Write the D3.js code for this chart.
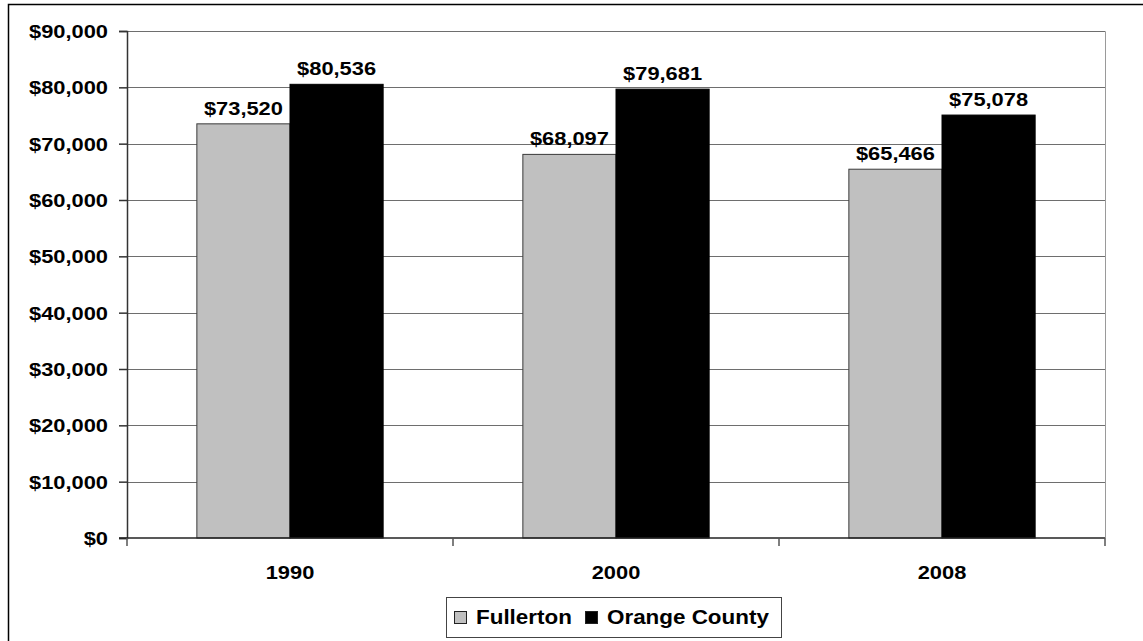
<!DOCTYPE html>
<html>
<head>
<meta charset="utf-8">
<script src="https://cdn.jsdelivr.net/npm/d3@7"></script>
<style>
	body { margin: 0; background: #fff; }
	text { font-family: "Liberation Sans", Arial, sans-serif; font-weight: bold; fill: #000; }
</style>
</head>
<body>
<script>
// chart data
var years = ['1990', '2000', '2008'];
var seriesNames = ['Fullerton', 'Orange County'];
var fullerton = [73520, 68097, 65466];
var orangeCounty = [80536, 79681, 75078];
var yTicks = [0, 10000, 20000, 30000, 40000, 50000, 60000, 70000, 80000, 90000];

(function(){
	var width = 1143,
		height = 641;
	var colors = ['#c0c0c0', '#000000'];
	var stretch = 1.15; // excel text looks a bit wide

	var plot = {left: 127, right: 1105, top: 31, bottom: 538};

	var svg = d3.select("body")
		.append("svg")
		.attr("width", width)
		.attr("height", height);

	//outer chart frame
	svg.append("rect")
		.attr("x", 8.5)
		.attr("y", 4.5)
		.attr("width", width)
		.attr("height", height)
		.attr("fill", "#fff")
		.attr("stroke", "#000")
		.attr("stroke-width", 1.5);

	var x = d3.scaleBand()
		.domain(years)
		.range([plot.left, plot.right]);

	var y = d3.scaleLinear()
		.domain([0, 90000])
		.range([plot.bottom, plot.top]);

	var barW = x.bandwidth() / 3.5;
	var fmt = d3.format("$,.0f");

	//plot area outline (top + right)
	svg.append("path")
		.attr("d", "M" + plot.left + "," + (plot.top + 0.5) + "H" + (plot.right + 0.5) + "V" + plot.bottom)
		.attr("fill", "none")
		.attr("stroke", "#9a9a9a")
		.attr("stroke-width", 1);

	//gridlines
	svg.selectAll(".grid")
		.data(yTicks.slice(1))
		.enter()
		.append("line")
		.attr("class", "grid")
		.attr("x1", plot.left)
		.attr("x2", plot.right)
		.attr("y1", function(d){ return Math.round(y(d)) + 0.5; })
		.attr("y2", function(d){ return Math.round(y(d)) + 0.5; })
		.attr("stroke", "#6e6e6e")
		.attr("stroke-width", 1);

	//bars
	var series = [fullerton, orangeCounty];
	var bars = [];
	series.forEach(function(vals, s){
		vals.forEach(function(v, i){
			bars.push({year: years[i], value: v, s: s});
		});
	});

	function barX(d){
		return x(d.year) + x.bandwidth() / 2 + (d.s - 1) * barW;
	}

	svg.selectAll(".bar")
		.data(bars)
		.enter()
		.append("rect")
		.attr("class", "bar")
		.attr("x", function(d){ return barX(d); })
		.attr("y", function(d){ return y(d.value); })
		.attr("width", barW)
		.attr("height", function(d){ return plot.bottom - y(d.value); })
		.attr("fill", function(d){ return colors[d.s]; })
		.attr("stroke", function(d){ return d.s == 0 ? "#3a3a3a" : "#000"; })
		.attr("stroke-width", 1);

	//value labels
	svg.selectAll(".vlabel")
		.data(bars)
		.enter()
		.append("text")
		.attr("class", "vlabel")
		.attr("text-anchor", "middle")
		.attr("font-size", 19)
		.attr("transform", function(d){
			return "translate(" + (barX(d) + barW / 2) + "," + (y(d.value) - 9) + ") scale(" + stretch + ",1)";
		})
		.text(function(d){ return fmt(d.value); });

	//y axis
	var yAxis = d3.axisLeft(y)
		.tickValues(yTicks)
		.tickSize(8)
		.tickFormat("");
	var yG = svg.append("g")
		.attr("transform", "translate(" + plot.left + ",0)")
		.call(yAxis);
	yG.select(".domain").attr("stroke", "#333").attr("stroke-width", 1.5);
	yG.selectAll(".tick line").attr("stroke", "#333").attr("stroke-width", 1.5);

	svg.selectAll(".ylabel")
		.data(yTicks)
		.enter()
		.append("text")
		.attr("class", "ylabel")
		.attr("text-anchor", "end")
		.attr("font-size", 19)
		.attr("transform", function(d){
			return "translate(108," + (y(d) + 7) + ") scale(" + stretch + ",1)";
		})
		.text(function(d){ return fmt(d); });

	//x axis line and ticks at category edges
	svg.append("line")
		.attr("x1", plot.left - 8)
		.attr("x2", plot.right)
		.attr("y1", plot.bottom)
		.attr("y2", plot.bottom)
		.attr("stroke", "#222")
		.attr("stroke-width", 1.5);

	var edges = years.map(function(c){ return x(c); }).concat([plot.right]);
	svg.selectAll(".xtick")
		.data(edges)
		.enter()
		.append("line")
		.attr("class", "xtick")
		.attr("x1", function(d){ return d; })
		.attr("x2", function(d){ return d; })
		.attr("y1", plot.bottom)
		.attr("y2", plot.bottom + 8)
		.attr("stroke", "#555")
		.attr("stroke-width", 1.5);

	svg.selectAll(".xlabel")
		.data(years)
		.enter()
		.append("text")
		.attr("class", "xlabel")
		.attr("text-anchor", "middle")
		.attr("font-size", 19)
		.attr("transform", function(d){
			return "translate(" + (x(d) + x.bandwidth() / 2) + ",579) scale(" + stretch + ",1)";
		})
		.text(function(d){ return d; });

	//legend
	var legend = svg.append("g")
		.attr("transform", "translate(446,597)");
	legend.append("rect")
		.attr("x", 0.5)
		.attr("y", 0.5)
		.attr("width", 335)
		.attr("height", 40)
		.attr("fill", "#fff")
		.attr("stroke", "#444")
		.attr("stroke-width", 1);

	var itemX = [8, 139];
	seriesNames.forEach(function(name, i){
		legend.append("rect")
			.attr("x", itemX[i] + 0.5)
			.attr("y", 14.5)
			.attr("width", 12)
			.attr("height", 12)
			.attr("fill", colors[i])
			.attr("stroke", "#222")
			.attr("stroke-width", 1);
		legend.append("text")
			.attr("font-size", 19.5)
			.attr("transform", "translate(" + (itemX[i] + 22) + ",27) scale(" + stretch + ",1)")
			.text(name);
	});
})();
</script>
</body>
</html>
